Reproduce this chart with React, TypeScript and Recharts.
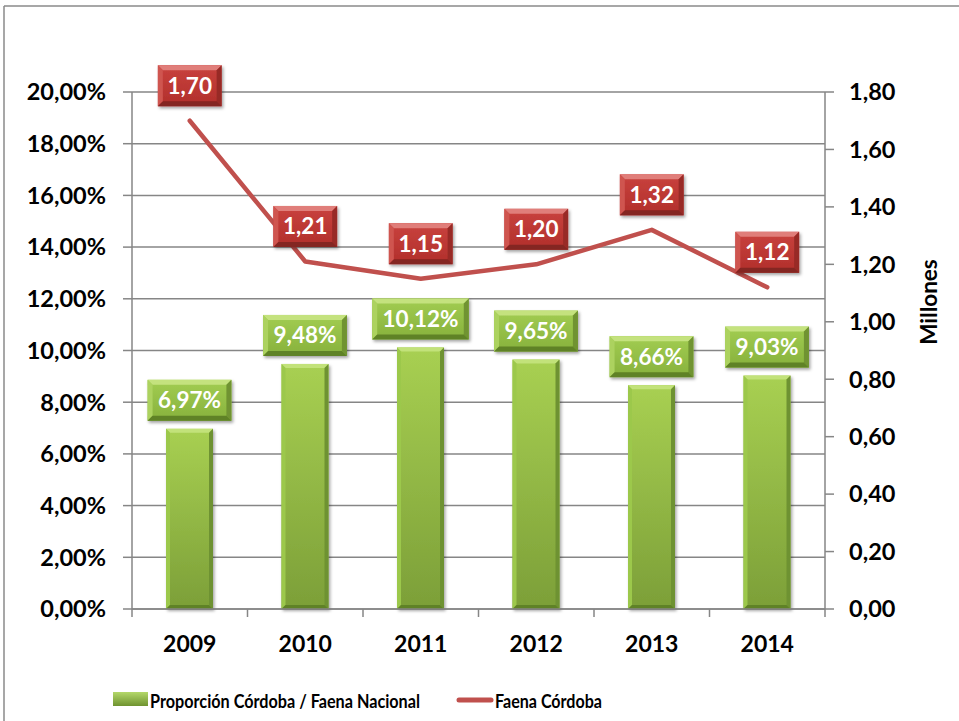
import React from 'react';
import {
  ComposedChart, Bar, Line, XAxis, YAxis, CartesianGrid, LabelList,
} from 'recharts';

const categories = ['2009', '2010', '2011', '2012', '2013', '2014'];
const proportionCordoba = [6.97, 9.48, 10.12, 9.65, 8.66, 9.03];
const faenaCordoba = [1.70, 1.21, 1.15, 1.20, 1.32, 1.12];
const leftTicks = [0, 2, 4, 6, 8, 10, 12, 14, 16, 18, 20];
const rightTicks = [0, 0.2, 0.4, 0.6, 0.8, 1.0, 1.2, 1.4, 1.6, 1.8];
const barSeriesName = 'Proporción Córdoba / Faena Nacional';
const lineSeriesName = 'Faena Córdoba';
const rightAxisTitle = 'Millones';

const data = categories.map((c, i) => ({
  year: c,
  prop: proportionCordoba[i],
  faena: faenaCordoba[i],
}));

const W = 959;
const H = 721;
const PLOT_LEFT = 132;
const PLOT_RIGHT = 825;
const PLOT_TOP = 92;
const PLOT_BOTTOM = 609;
const FONT = 'Lato, "Open Sans", sans-serif';
const GRID = '#868686';

const fmtPct = (v: number) => v.toFixed(2).replace('.', ',') + '%';
const fmtNum = (v: number) => v.toFixed(2).replace('.', ',');

const textWidth = (s: string, size: number) => {
  let w = 0;
  for (const ch of s) {
    if (ch >= '0' && ch <= '9') w += 0.58 * size;
    else if (ch === ',') w += 0.25 * size;
    else if (ch === '%') w += 0.82 * size;
    else w += 0.55 * size;
  }
  return w;
};

type Pal = { top: string; left: string; right: string; bottom: string };
const GREEN_BAR: Pal = { top: '#c2e27a', left: '#9cc84c', right: '#6e9230', bottom: '#5f8227' };
const GREEN: Pal = { top: '#c4e27e', left: '#acd25f', right: '#6f9330', bottom: '#5f8227' };
const RED: Pal = { top: '#e07e7a', left: '#cf5450', right: '#982c28', bottom: '#842522' };

function Bevel({ x, y, w, h, pal, grad, b = 5 }: { x: number; y: number; w: number; h: number; pal: Pal; grad: string; b?: number }) {
  return (
    <g filter="url(#softShadow)">
      <rect x={x} y={y} width={w} height={h} fill={`url(#${grad})`} />
      <polygon points={`${x},${y} ${x + w},${y} ${x + w - b},${y + b} ${x + b},${y + b}`} fill={pal.top} />
      <polygon points={`${x},${y} ${x + b},${y + b} ${x + b},${y + h - b} ${x},${y + h}`} fill={pal.left} />
      <polygon points={`${x + w},${y} ${x + w},${y + h} ${x + w - b},${y + h - b} ${x + w - b},${y + b}`} fill={pal.right} />
      <polygon points={`${x},${y + h} ${x + b},${y + h - b} ${x + w - b},${y + h - b} ${x + w},${y + h}`} fill={pal.bottom} />
    </g>
  );
}

const BarShape = (props: any) => {
  const { x, y, width, height } = props;
  if (height == null || height <= 0) return null;
  return <Bevel x={x} y={y} w={width} h={height} pal={GREEN_BAR} grad="greenBody" b={4} />;
};

const BarLabel = (props: any) => {
  const { x, y, width, value } = props;
  const txt = fmtPct(Number(value));
  const bw = textWidth(txt, 22) + 22;
  const bh = 41;
  const cx = x + width / 2;
  const by = y - 8 - bh;
  return (
    <g>
      <Bevel x={cx - bw / 2} y={by} w={bw} h={bh} pal={GREEN} grad="greenBox" b={5} />
      <text x={cx} y={by + bh / 2 + 8} textAnchor="middle" fill="#ffffff" fontFamily={FONT} fontWeight={700} fontSize={22.5}>{txt}</text>
    </g>
  );
};

const LineLabel = (props: any) => {
  const { x, y, value } = props;
  const txt = fmtNum(Number(value));
  const bw = textWidth(txt, 22) + 20;
  const bh = 41;
  const by = y - 35 - bh / 2;
  return (
    <g>
      <Bevel x={x - bw / 2} y={by} w={bw} h={bh} pal={RED} grad="redBox" b={5} />
      <text x={x} y={by + bh / 2 + 8} textAnchor="middle" fill="#ffffff" fontFamily={FONT} fontWeight={700} fontSize={22.5}>{txt}</text>
    </g>
  );
};

const bandWidth = (PLOT_RIGHT - PLOT_LEFT) / categories.length;

const XTick = (props: any) => {
  const { x, y, payload, index } = props;
  const lx = x - bandWidth / 2;
  const rx = x + bandWidth / 2;
  return (
    <g>
      <line x1={lx} y1={y} x2={lx} y2={y + 8} stroke={GRID} strokeWidth={1.5} />
      {index === categories.length - 1 && (
        <line x1={rx} y1={y} x2={rx} y2={y + 8} stroke={GRID} strokeWidth={1.5} />
      )}
      <text x={x} y={y + 43} textAnchor="middle" fill="#000" fontFamily={FONT} fontWeight={700} fontSize={23}>{payload.value}</text>
    </g>
  );
};

export default function App() {
  return (
    <div style={{ position: 'absolute', left: 0, top: 0, width: W, height: H, background: '#fff' }}>
      <ComposedChart
        width={W}
        height={H}
        data={data}
        margin={{ top: PLOT_TOP, right: 0, bottom: 0, left: 0 }}
        barSize={47}
      >
        <defs>
          <linearGradient id="greenBody" x1="0" y1="0" x2="0" y2="1">
            <stop offset="0" stopColor="#a8d052" />
            <stop offset="1" stopColor="#7c9f38" />
          </linearGradient>
          <linearGradient id="greenBox" x1="0" y1="0" x2="0" y2="1">
            <stop offset="0" stopColor="#a2cd52" />
            <stop offset="1" stopColor="#87b13c" />
          </linearGradient>
          <linearGradient id="redBox" x1="0" y1="0" x2="0" y2="1">
            <stop offset="0" stopColor="#c9423e" />
            <stop offset="1" stopColor="#b12f2b" />
          </linearGradient>
          <filter id="softShadow" x="-20%" y="-20%" width="150%" height="150%">
            <feDropShadow dx="1.5" dy="2" stdDeviation="1.8" floodColor="#000" floodOpacity="0.35" />
          </filter>
        </defs>
        <CartesianGrid vertical={false} stroke={GRID} strokeWidth={1.5} yAxisId="left" />
        <XAxis
          dataKey="year"
          height={H - PLOT_BOTTOM}
          axisLine={{ stroke: GRID, strokeWidth: 1.5 }}
          tickLine={false}
          tickSize={0}
          tickMargin={0}
          interval={0}
          tick={<XTick />}
        />
        <YAxis
          yAxisId="left"
          orientation="left"
          width={PLOT_LEFT}
          domain={[0, 20]}
          ticks={leftTicks}
          interval={0}
          tickFormatter={fmtPct}
          axisLine={{ stroke: GRID, strokeWidth: 1.5 }}
          tickLine={{ stroke: GRID, strokeWidth: 1.5 }}
          tickSize={9}
          tickMargin={17}
          tick={{ fill: '#000', fontFamily: FONT, fontWeight: 700, fontSize: 23.5 }}
        />
        <YAxis
          yAxisId="right"
          orientation="right"
          width={W - PLOT_RIGHT}
          domain={[0, 1.8]}
          ticks={rightTicks}
          interval={0}
          tickFormatter={fmtNum}
          axisLine={{ stroke: GRID, strokeWidth: 1.5 }}
          tickLine={{ stroke: GRID, strokeWidth: 1.5 }}
          tickSize={9}
          tickMargin={15}
          tick={{ fill: '#000', fontFamily: FONT, fontWeight: 700, fontSize: 23.5 }}
        />
        <Bar yAxisId="left" dataKey="prop" name={barSeriesName} shape={<BarShape />} isAnimationActive={false}>
          <LabelList dataKey="prop" content={<BarLabel />} />
        </Bar>
        <Line
          yAxisId="right"
          dataKey="faena"
          name={lineSeriesName}
          stroke="#c0504d"
          strokeWidth={4.5}
          strokeLinecap="round"
          strokeLinejoin="round"
          dot={false}
          activeDot={false}
          isAnimationActive={false}
        >
          <LabelList dataKey="faena" content={<LineLabel />} />
        </Line>
      </ComposedChart>
      <svg width={W} height={H} style={{ position: 'absolute', left: 0, top: 0, pointerEvents: 'none' }}>
        <defs>
          <linearGradient id="legGreen" x1="0" y1="0" x2="0" y2="1">
            <stop offset="0" stopColor="#b4d86a" />
            <stop offset="1" stopColor="#6f9330" />
          </linearGradient>
        </defs>
        <line x1={4} y1={6} x2={W} y2={6} stroke="#8a8a8a" strokeWidth={1.5} />
        <line x1={4} y1={6} x2={4} y2={H} stroke="#8a8a8a" strokeWidth={1.5} />
        <text
          x={937}
          y={302}
          transform="rotate(-90 937 302)"
          textAnchor="middle"
          fill="#000"
          fontFamily={FONT}
          fontWeight={700}
          fontSize={22.5}
        >{rightAxisTitle}</text>
        <g>
          <rect x={113} y={692} width={35} height={14} fill="url(#legGreen)" />
          <text x={150} y={708} fill="#000" fontFamily={FONT} fontWeight={700} fontSize={18.5}
            textLength={270} lengthAdjust="spacingAndGlyphs">{barSeriesName}</text>
          <line x1={459} y1={700} x2={491} y2={700} stroke="#c0504d" strokeWidth={5} strokeLinecap="round" />
          <text x={495} y={708} fill="#000" fontFamily={FONT} fontWeight={700} fontSize={18.5}
            textLength={107} lengthAdjust="spacingAndGlyphs">{lineSeriesName}</text>
        </g>
      </svg>
    </div>
  );
}
